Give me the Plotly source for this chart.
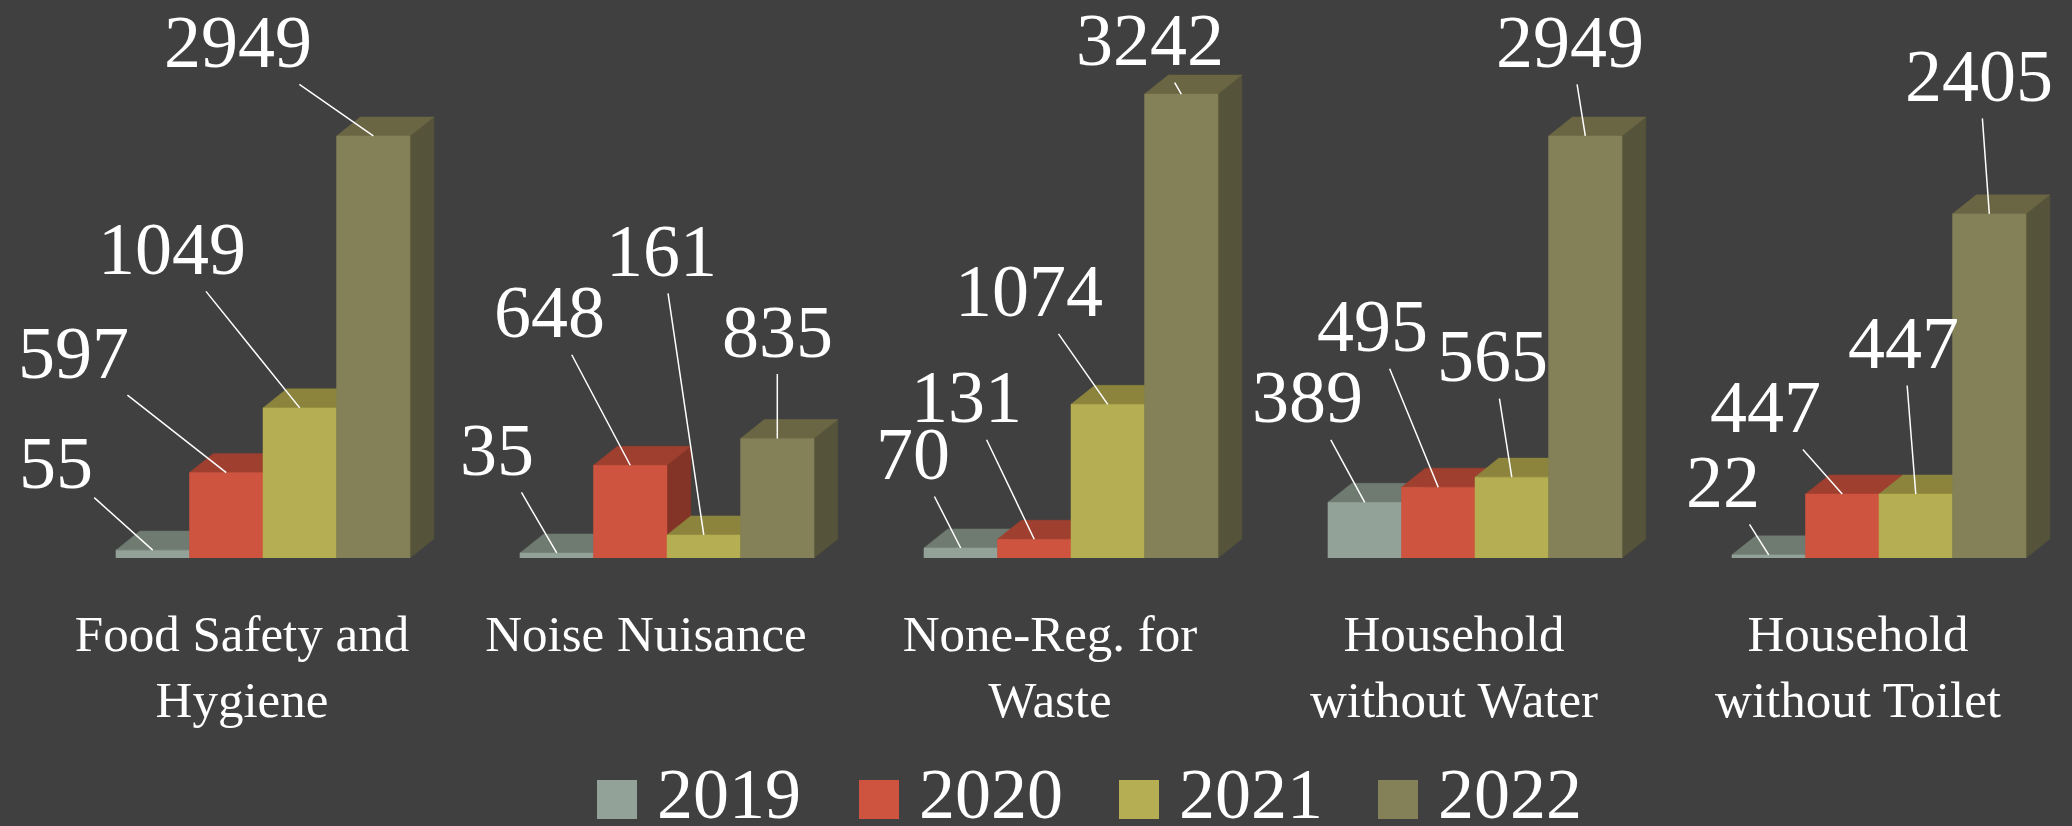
"""
3D-style clustered column chart of complaint / sanitation counts, 2019-2022
"""

import plotly.graph_objects as go

# data
categories = ["Food Safety and<br>Hygiene", "Noise Nuisance", "None-Reg. for<br>Waste",
              "Household<br>without Water", "Household<br>without Toilet"]
years = ["2019", "2020", "2021", "2022"]
v2019 = [55, 35, 70, 389, 22]
v2020 = [597, 648, 131, 495, 447]
v2021 = [1049, 161, 1074, 565, 447]
v2022 = [2949, 835, 3242, 2949, 2405]
series = [v2019, v2020, v2021, v2022]

# styling
FRONT = ["#93A299", "#CF543F", "#B5AE53", "#848058"]
TOP = ["#6F7A71", "#9E3F2F", "#8C843D", "#6A6643"]
SIDE = ["#5E6861", "#843427", "#736E35", "#55543A"]
BG = "#404040"
FONT = "Liberation Serif"

# label offsets (pixels) from the top of each bar, per category then per year
LABEL_OFFSETS = [
    [(-97, -87), (-153, -120), (-128, -159), (-135, -94)],
    [(-60, -103), (-81, -153), (-42, -284), (0, -107)],
    [(-48, -94), (-68, -142), (-79, -113), (-31, -54)],
    [(-57, -105), (-66, -161), (-19, -121), (-15, -94)],
    [(-46, -73), (-77, -87), (-12, -151), (-10, -138)],
]

W = 0.182        # bar width in category units
SHIFT = 0.052    # bars sit a little right of the tick
DX = 0.059       # depth offset, x (category units)
DY = 133         # depth offset, y (value units)

W_PX, H_PX = 2072, 826
M_L, M_R, M_T, M_B = 40, 12, 60, 268
Y_MAX = 3480


def poly(pts):
    xs = [p[0] for p in pts] + [pts[0][0], None]
    ys = [p[1] for p in pts] + [pts[0][1], None]
    return xs, ys


fig = go.Figure()

# paint bar by bar, left to right within each cluster
for j, vals in enumerate(series):
    faces = {"side": ([], []), "top": ([], []), "front": ([], [])}
    for i, v in enumerate(vals):
        xl = i + SHIFT + (j - 2) * W
        xr = xl + W
        for name, pts in [
            ("side", [(xr, 0), (xr + DX, DY), (xr + DX, v + DY), (xr, v)]),
            ("top", [(xl, v), (xl + DX, v + DY), (xr + DX, v + DY), (xr, v)]),
            ("front", [(xl, 0), (xr, 0), (xr, v), (xl, v)]),
        ]:
            xs, ys = poly(pts)
            faces[name][0].extend(xs)
            faces[name][1].extend(ys)
    for name, col in [("side", SIDE[j]), ("top", TOP[j]), ("front", FRONT[j])]:
        fig.add_trace(go.Scatter(
            x=faces[name][0], y=faces[name][1],
            mode="lines", fill="toself", fillcolor=col,
            line=dict(color=col, width=0.5),
            hoverinfo="skip", showlegend=False
        ))

# data labels with leader lines
for i in range(len(categories)):
    for j, vals in enumerate(series):
        ax, ay = LABEL_OFFSETS[i][j]
        fig.add_annotation(
            x=i + SHIFT + (j - 1.5) * W, y=vals[i],
            text=str(vals[i]), showarrow=True, arrowhead=0,
            arrowwidth=1.5, arrowcolor="white",
            ax=ax, ay=ay, standoff=0,
            font=dict(family=FONT, size=74, color="white")
        )

# legend drawn by hand so the swatches can be large
plot_w = W_PX - M_L - M_R
plot_h = H_PX - M_T - M_B
legend_x = [597, 859, 1119, 1378]
for k, yr in enumerate(years):
    x0 = (legend_x[k] - M_L) / plot_w
    x1 = (legend_x[k] + 40 - M_L) / plot_w
    fig.add_shape(type="rect", xref="paper", yref="paper",
                  x0=x0, x1=x1,
                  y0=(M_T + plot_h - 819) / plot_h, y1=(M_T + plot_h - 780) / plot_h,
                  fillcolor=FRONT[k], line=dict(width=0))
    fig.add_annotation(
        xref="paper", yref="paper", x=(legend_x[k] + 58 - M_L) / plot_w,
        y=(M_T + plot_h - 794) / plot_h, xanchor="left", yanchor="middle",
        text=yr, showarrow=False,
        font=dict(family=FONT, size=72, color="white")
    )

fig.update_layout(
    width=W_PX, height=H_PX,
    paper_bgcolor=BG, plot_bgcolor=BG,
    margin=dict(l=M_L, r=M_R, t=M_T, b=M_B),
    showlegend=False,
    xaxis=dict(
        range=[-0.5, len(categories) - 0.5],
        tickvals=list(range(len(categories))), ticktext=categories,
        showgrid=False, zeroline=False, showline=False, ticks="",
        ticklabelstandoff=41,
        tickfont=dict(family=FONT, size=51, color="white")
    ),
    yaxis=dict(range=[0, Y_MAX], visible=False),
)

fig.write_html("out.html", config={"displayModeBar": False},
               post_script="document.body.style.margin='0';")
